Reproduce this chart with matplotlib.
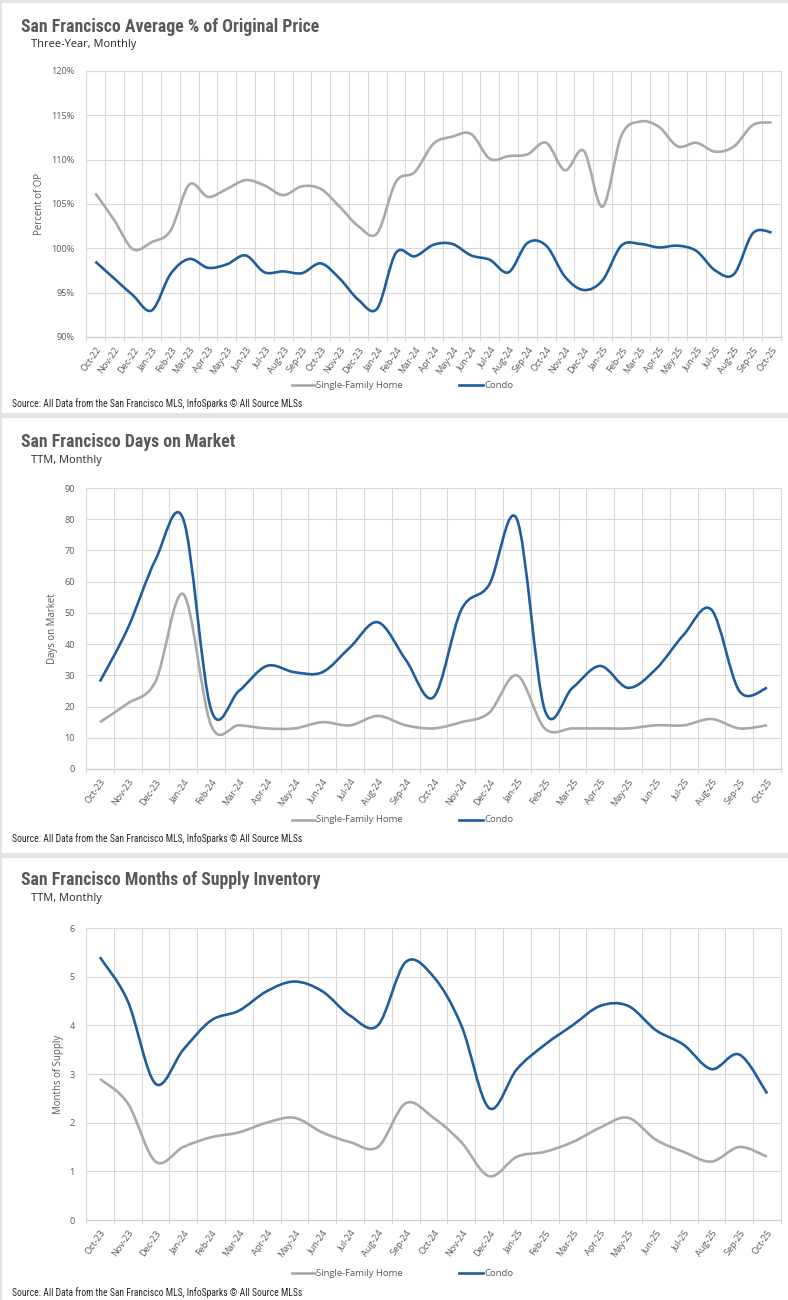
import matplotlib
matplotlib.use('Agg')
import matplotlib.pyplot as plt
from matplotlib import font_manager
from matplotlib.path import Path
from matplotlib.patches import PathPatch, Rectangle
from matplotlib.lines import Line2D
import pandas as pd

# ---- data ----
months_3y = list(pd.date_range('2022-10-01', periods=37, freq='MS').strftime('%b-%y'))
months_2y = list(pd.date_range('2023-10-01', periods=25, freq='MS').strftime('%b-%y'))

op_sfh = [106.2, 103.2, 99.9, 100.7, 102.0, 107.2, 105.8, 106.7, 107.7, 107.1, 106.0, 107.0,
          106.7, 104.7, 102.5, 101.7, 107.5, 108.6, 111.8, 112.6, 112.9, 110.1, 110.4, 110.6,
          111.9, 108.8, 111.0, 104.7, 112.7, 114.3, 113.7, 111.5, 111.9, 110.9, 111.5, 113.9, 114.2]
op_condo = [98.5, 96.6, 94.7, 93.0, 97.1, 98.8, 97.8, 98.2, 99.2, 97.3, 97.4, 97.2,
            98.3, 96.6, 94.2, 93.2, 99.5, 99.1, 100.4, 100.5, 99.2, 98.7, 97.3, 100.6,
            100.3, 96.8, 95.3, 96.4, 100.3, 100.5, 100.1, 100.3, 99.7, 97.5, 97.1, 101.7, 101.8]

dom_sfh = [15, 21, 28, 56, 14, 14, 13, 13, 15, 14, 17, 14, 13,
           15, 18, 30, 13, 13, 13, 13, 14, 14, 16, 13, 14]
dom_condo = [28, 45, 67, 80, 19, 25, 33, 31, 31, 39, 47, 35, 23,
             51, 59, 80, 19, 26, 33, 26, 32, 43, 51, 25, 26]

mos_sfh = [2.9, 2.4, 1.2, 1.5, 1.7, 1.8, 2.0, 2.1, 1.8, 1.6, 1.5, 2.4, 2.1,
           1.6, 0.9, 1.3, 1.4, 1.6, 1.9, 2.1, 1.65, 1.4, 1.2, 1.5, 1.3]
mos_condo = [5.4, 4.5, 2.8, 3.5, 4.1, 4.3, 4.7, 4.9, 4.7, 4.2, 4.0, 5.3, 5.0,
             4.0, 2.3, 3.1, 3.6, 4.0, 4.4, 4.4, 3.9, 3.6, 3.1, 3.4, 2.6]

SFH_COLOR = '#A9A9A9'
CONDO_COLOR = '#1F5E9C'
TXT = '#595959'
GRID = '#D9D9D9'

W, H = 788, 1300


def pick_font(cands):
    names = {f.name for f in font_manager.fontManager.ttflist}
    for c in cands:
        if c in names:
            return c
    return 'DejaVu Sans'


TITLE_FONT = pick_font(['Roboto Condensed', 'Liberation Sans Narrow', 'Roboto', 'Open Sans'])
BODY_FONT = pick_font(['Open Sans', 'Lato', 'DejaVu Sans'])
NARROW_FONT = pick_font(['Roboto Condensed', 'Liberation Sans Narrow', 'Roboto'])


def fx(px):
    return px / W


def fy(py):
    return 1 - py / H


def smooth_path(x, y):
    # Bezier path through the points, similar to a spreadsheet "smoothed line"
    n = len(x)
    verts = [(x[0], y[0])]
    codes = [Path.MOVETO]
    for i in range(n - 1):
        a = i - 1 if i > 0 else i
        d = i + 2 if i + 2 < n else i + 1
        c1 = (x[i] + (x[i + 1] - x[a]) / 6, y[i] + (y[i + 1] - y[a]) / 6)
        c2 = (x[i + 1] - (x[d] - x[i]) / 6, y[i + 1] - (y[d] - y[i]) / 6)
        verts += [c1, c2, (x[i + 1], y[i + 1])]
        codes += [Path.CURVE4] * 3
    return Path(verts, codes)


def panel(fig, top, bottom, labels, sfh, condo, ylim, ystep, yfmt, ylabel, ylabel_x):
    ax = fig.add_axes([fx(86), fy(bottom), fx(781 - 86), (bottom - top) / H])
    n = len(labels)
    xs = list(range(n))
    for vals, col in [(sfh, SFH_COLOR), (condo, CONDO_COLOR)]:
        ax.add_patch(PathPatch(smooth_path(xs, vals), facecolor='none', edgecolor=col,
                               lw=1.9, capstyle='butt', joinstyle='round', zorder=3))
    ax.set_xlim(-0.5, n - 0.5)
    ax.set_ylim(*ylim)
    yt = [ylim[0] + k * ystep for k in range(int(round((ylim[1] - ylim[0]) / ystep)) + 1)]
    ax.set_yticks(yt)
    ax.set_yticklabels([yfmt(v) for v in yt], fontsize=6.6, color=TXT, family=BODY_FONT)
    ax.set_xticks(xs)
    ax.set_xticklabels(labels, rotation=55, ha='right', va='top', rotation_mode='anchor',
                       fontsize=6.6, color=TXT, family=BODY_FONT)
    ax.set_xticks([k - 0.5 for k in range(n + 1)], minor=True)
    ax.tick_params(axis='x', which='major', length=0, pad=6)
    ax.tick_params(axis='x', which='minor', length=3, color=GRID, width=0.8)
    ax.tick_params(axis='y', length=0, pad=8)
    ax.grid(True, axis='y', which='major', color=GRID, lw=0.8)
    ax.grid(True, axis='x', which='minor', color=GRID, lw=0.8)
    ax.set_axisbelow(True)
    for s in ['left', 'right', 'top']:
        ax.spines[s].set_color(GRID)
        ax.spines[s].set_linewidth(0.8)
    ax.spines['bottom'].set_color('#CFCFCF')
    ax.spines['bottom'].set_linewidth(0.9)
    fig.text(fx(ylabel_x), fy((top + bottom) / 2), ylabel, rotation=90, ha='center', va='center',
             fontsize=6.9, color=TXT, family=BODY_FONT)
    return ax


def header(fig, y_title, y_sub, title, sub):
    fig.text(fx(21), fy(y_title), title, fontsize=12.8, fontweight='bold', color=TXT,
             family=TITLE_FONT, va='center', ha='left')
    fig.text(fx(31), fy(y_sub), sub, fontsize=7.9, color='#262626', family=BODY_FONT,
             va='center', ha='left')


def footer(fig, y_leg, y_src):
    for x0, x1, col, lab in [(292, 315, SFH_COLOR, 'Single-Family Home'), (459, 483, CONDO_COLOR, 'Condo')]:
        fig.add_artist(Line2D([fx(x0), fx(x1)], [fy(y_leg), fy(y_leg)], color=col, lw=1.9,
                              transform=fig.transFigure))
        fig.text(fx(x1 + 1), fy(y_leg), lab, fontsize=6.8, color=TXT, family=BODY_FONT,
                 va='center', ha='left')
    fig.text(fx(12), fy(y_src), 'Source: All Data from the San Francisco MLS, InfoSparks \u00a9 All Source MLSs',
             fontsize=6.9, color='#262626', family=NARROW_FONT, va='center', ha='left')


fig = plt.figure(figsize=(W / 100, H / 100), dpi=100)
fig.patch.set_facecolor('white')

# frame bands between panels
for y0, y1 in [(0, 3), (413, 418), (853, 858)]:
    fig.add_artist(Rectangle((0, fy(y1)), 1, (y1 - y0) / H, transform=fig.transFigure,
                             facecolor='#E3E3E3', edgecolor='none'))
fig.add_artist(Rectangle((0, 0), fx(1.5), 1, transform=fig.transFigure,
                         facecolor='#E3E3E3', edgecolor='none'))

header(fig, 27, 45, 'San Francisco Average % of Original Price', 'Three-Year, Monthly')
panel(fig, 71, 337, months_3y, op_sfh, op_condo, (90, 120), 5, lambda v: f'{v:.0f}%',
      'Percent of OP', 39)
footer(fig, 385, 404)

header(fig, 442, 461, 'San Francisco Days on Market', 'TTM, Monthly')
panel(fig, 488, 769, months_2y, dom_sfh, dom_condo, (0, 90), 10, lambda v: f'{v:.0f}',
      'Days on Market', 53)
footer(fig, 820, 839)

header(fig, 880, 899, 'San Francisco Months of Supply Inventory', 'TTM, Monthly')
panel(fig, 928, 1220, months_2y, mos_sfh, mos_condo, (0, 6), 1, lambda v: f'{v:.0f}',
      'Months of Supply', 59)
footer(fig, 1273, 1293)

fig.savefig('out.png', dpi=100, facecolor='white')
